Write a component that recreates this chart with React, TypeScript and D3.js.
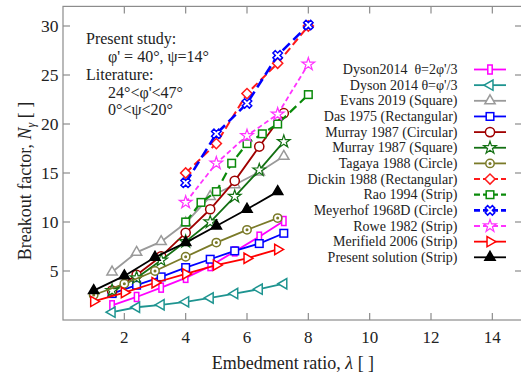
import React from "react";
import * as d3 from "d3";

// Embedment ratios (λ) used by the different studies
const lambdaEight = [1.6, 2.4, 3.2, 4.0, 4.8, 5.6, 6.4, 7.2];
const lambdaUnit = [1, 2, 3, 4, 5, 6, 7];
const lambdaDeep = [4, 5, 6, 7, 8];
const lambdaRao = [4, 4.5, 5, 5.5, 6, 6.5, 7, 8];

// Breakout factor Nγ for each study
const dysonTwoThirds = [1.5, 2.35, 3.3, 4.3, 5.5, 7.0, 8.5, 10.1];
const dysonOneThird = [0.8, 1.3, 1.55, 1.85, 2.25, 2.7, 3.15, 3.7];
const evans2019 = [4.9, 6.9, 8.0, 9.9, 12.6, 13.8, 15.1, 16.7];
const das1975 = [2.7, 3.55, 4.4, 5.35, 6.2, 7.05, 7.8, 8.85];
const murrayCircular = [3.0, 4.6, 6.5, 8.9, 11.3, 14.2, 17.7, 21.1];
const murraySquare = [3.0, 4.3, 6.1, 8.0, 10.0, 12.6, 15.3, 18.2];
const tagaya1988 = [2.55, 3.7, 5.0, 6.45, 7.9, 9.2, 10.4];
const dickin1988 = [15.0, 18.0, 23.1, 26.2, 30.0];
const rao1994 = [10.0, 12.0, 13.1, 16.0, 18.0, 19.0, 20.0, 23.0];
const meyerhof1968 = [14.0, 19.0, 22.1, 27.0, 30.1];
const rowe1982 = [12.0, 16.0, 18.8, 21.0, 26.1];
const merifield2006 = [1.9, 2.8, 3.8, 4.7, 5.6, 6.3, 7.2];
const presentSolution = [3.0, 4.5, 6.4, 7.9, 9.6, 11.3, 13.1];

const xTicks = [2, 4, 6, 8, 10, 12, 14];
const yTicks = [5, 10, 15, 20, 25, 30];

type Marker =
  | "rect" | "triLeft" | "triUp" | "square" | "circle" | "star"
  | "dotCircle" | "diamond" | "xcross" | "triRight" | "triUpFilled";

interface Series {
  label: string;
  xs: number[];
  ys: number[];
  color: string;
  marker: Marker;
  dash?: string;
  width: number;
}

const series: Series[] = [
  { label: "Dyson2014  θ=2φ'/3", xs: lambdaEight, ys: dysonTwoThirds, color: "#ff00ff", marker: "rect", width: 1.8 },
  { label: "Dyson 2014 θ=φ'/3", xs: lambdaEight, ys: dysonOneThird, color: "#1e9490", marker: "triLeft", width: 1.8 },
  { label: "Evans 2019 (Square)", xs: lambdaEight, ys: evans2019, color: "#9a9a9a", marker: "triUp", width: 1.8 },
  { label: "Das 1975 (Rectangular)", xs: lambdaEight, ys: das1975, color: "#0000ff", marker: "square", width: 1.8 },
  { label: "Murray 1987 (Circular)", xs: lambdaEight, ys: murrayCircular, color: "#a00000", marker: "circle", width: 1.8 },
  { label: "Murray 1987 (Square)", xs: lambdaEight, ys: murraySquare, color: "#137013", marker: "star", width: 1.8 },
  { label: "Tagaya 1988 (Circle)", xs: lambdaUnit, ys: tagaya1988, color: "#7a7a28", marker: "dotCircle", width: 1.8 },
  { label: "Dickin 1988 (Rectangular)", xs: lambdaDeep, ys: dickin1988, color: "#ff1a1a", marker: "diamond", dash: "8,4", width: 2 },
  { label: "Rao 1994 (Strip)", xs: lambdaRao, ys: rao1994, color: "#0a8a0a", marker: "square", dash: "9,5", width: 2.2 },
  { label: "Meyerhof 1968D (Circle)", xs: lambdaDeep, ys: meyerhof1968, color: "#0000ff", marker: "xcross", dash: "10,5", width: 2.6 },
  { label: "Rowe 1982 (Strip)", xs: lambdaDeep, ys: rowe1982, color: "#ff33ff", marker: "star", dash: "5,3", width: 1.8 },
  { label: "Merifield 2006 (Strip)", xs: lambdaUnit, ys: merifield2006, color: "#ff0000", marker: "triRight", width: 1.8 },
  { label: "Present solution (Strip)", xs: lambdaUnit, ys: presentSolution, color: "#000000", marker: "triUpFilled", width: 1.8 },
];

const W = 521;
const H = 379;
const plot = { left: 63, right: 523, top: 6.4, bottom: 320 };
const x = d3.scaleLinear().domain([0, 15]).range([plot.left, plot.right]);
const y = d3.scaleLinear().domain([0, 32]).range([plot.bottom, plot.top]);

const serif = '"Liberation Serif", "Times New Roman", Times, "DejaVu Serif", serif';
const frameColor = "#8c8c8c";
const textStyle = { fontFamily: serif };

function MarkerShape({ kind, cx, cy, color }: { kind: Marker; cx: number; cy: number; color: string }) {
  const common = { stroke: color, strokeWidth: 1.5, fill: "#fff" };
  const tri = d3.symbol().type(d3.symbolTriangle).size(46)() as string;
  switch (kind) {
    case "rect":
      return <rect x={cx - 2.2} y={cy - 4.5} width={4.4} height={9} {...common} />;
    case "square":
      return <rect x={cx - 3.8} y={cy - 3.8} width={7.6} height={7.6} {...common} />;
    case "circle":
      return <circle cx={cx} cy={cy} r={4.6} {...common} />;
    case "dotCircle":
      return (
        <g>
          <circle cx={cx} cy={cy} r={4.2} {...common} />
          <circle cx={cx} cy={cy} r={1.5} fill={color} />
        </g>
      );
    case "triUp":
      return <path d={tri} transform={`translate(${cx},${cy})`} {...common} />;
    case "triUpFilled":
      return <path d={tri} transform={`translate(${cx},${cy})`} stroke={color} strokeWidth={1.5} fill={color} />;
    case "triLeft":
      return <path d={tri} transform={`translate(${cx},${cy}) rotate(-90)`} {...common} />;
    case "triRight":
      return <path d={tri} transform={`translate(${cx},${cy}) rotate(90)`} {...common} />;
    case "diamond":
      return <rect x={-3.6} y={-3.6} width={7.2} height={7.2} transform={`translate(${cx},${cy}) rotate(45)`} {...common} />;
    case "star":
      return <path d={d3.symbol().type(d3.symbolStar).size(50)() as string} transform={`translate(${cx},${cy})`} {...common} strokeWidth={1.2} />;
    case "xcross":
      return <path d={d3.symbol().type(d3.symbolCross).size(56)() as string} transform={`translate(${cx},${cy}) rotate(45)`} {...common} />;
  }
  return null;
}

export default function App() {
  const line = d3
    .line<[number, number]>()
    .x((d) => x(d[0]))
    .y((d) => y(d[1]));

  const legendRightText = 457.5;
  const legendTop = 69.5;
  const legendStep = 15.65;
  const sampleX0 = 474;
  const sampleX1 = 506;

  return (
    <svg
      width={W}
      height={H}
      style={{ position: "absolute", left: 0, top: 0, background: "#fff", fontFamily: serif }}
    >
      <defs>
        <clipPath id="plotArea">
          <rect x={plot.left} y={plot.top} width={plot.right - plot.left} height={plot.bottom - plot.top} />
        </clipPath>
      </defs>

      {/* frame */}
      <rect
        x={plot.left}
        y={plot.top}
        width={plot.right - plot.left}
        height={plot.bottom - plot.top}
        fill="none"
        stroke={frameColor}
        strokeWidth={1.2}
      />

      {/* inward ticks on all four sides */}
      {xTicks.map((t) => (
        <g key={`xt${t}`} stroke={frameColor} strokeWidth={1.2}>
          <line x1={x(t)} x2={x(t)} y1={plot.bottom} y2={plot.bottom - 7} />
          <line x1={x(t)} x2={x(t)} y1={plot.top} y2={plot.top + 7} />
        </g>
      ))}
      {yTicks.map((t) => (
        <g key={`yt${t}`} stroke={frameColor} strokeWidth={1.2}>
          <line x1={plot.left} x2={plot.left + 7} y1={y(t)} y2={y(t)} />
          <line x1={plot.right} x2={plot.right - 8} y1={y(t)} y2={y(t)} />
        </g>
      ))}

      {/* tick labels */}
      {xTicks.map((t) => (
        <text key={`xl${t}`} x={x(t)} y={343} textAnchor="middle" fontSize={17} fill="#222" style={textStyle}>
          {t}
        </text>
      ))}
      {yTicks.map((t) => (
        <text key={`yl${t}`} x={58.5} y={y(t) + 6} textAnchor="end" fontSize={17.5} fill="#222" style={textStyle}>
          {t}
        </text>
      ))}

      {/* axis titles */}
      <text x={293} y={369} textAnchor="middle" fontSize={18} fill="#222" style={textStyle}>
        Embedment ratio, <tspan fontStyle="italic">λ</tspan> [ ]
      </text>
      <text
        transform={`translate(31,${181}) rotate(-90)`}
        textAnchor="middle"
        fontSize={18}
        fill="#222"
        style={textStyle}
      >
        Breakout factor, <tspan fontStyle="italic">N</tspan>
        <tspan fontStyle="italic" fontSize={12} dy={4}>γ</tspan>
        <tspan dy={-4}> [ ]</tspan>
      </text>

      {/* study notes */}
      <g fontSize={16} fill="#222" style={textStyle}>
        <text x={86} y={44}>Present study:</text>
        <text x={108} y={62}>φ' = 40°, ψ=14°</text>
        <text x={86} y={80}>Literature:</text>
        <text x={108} y={97.5}>24°&lt;φ'&lt;47°</text>
        <text x={108} y={115}>0°&lt;ψ&lt;20°</text>
      </g>

      {/* data series */}
      <g clipPath="url(#plotArea)">
        {series.map((s) => {
          const pts = s.xs.map((v, i) => [v, s.ys[i]] as [number, number]);
          return (
            <g key={s.label}>
              <path
                d={line(pts) as string}
                fill="none"
                stroke={s.color}
                strokeWidth={s.width}
                strokeDasharray={s.dash}
              />
              {pts.map((p, i) => (
                <MarkerShape key={i} kind={s.marker} cx={x(p[0])} cy={y(p[1])} color={s.color} />
              ))}
            </g>
          );
        })}
      </g>

      {/* legend */}
      <g fontSize={14} fill="#222" style={textStyle}>
        {series.map((s, i) => {
          const cy = legendTop + i * legendStep;
          return (
            <g key={`lg${i}`}>
              <text x={legendRightText} y={cy + 4.5} textAnchor="end" style={{ whiteSpace: "pre", fontFamily: serif }}>
                {s.label}
              </text>
              <line
                x1={sampleX0}
                x2={sampleX1}
                y1={cy}
                y2={cy}
                stroke={s.color}
                strokeWidth={s.width}
                strokeDasharray={s.dash ? "6,3" : undefined}
              />
              <MarkerShape kind={s.marker} cx={(sampleX0 + sampleX1) / 2} cy={cy} color={s.color} />
            </g>
          );
        })}
      </g>
    </svg>
  );
}
